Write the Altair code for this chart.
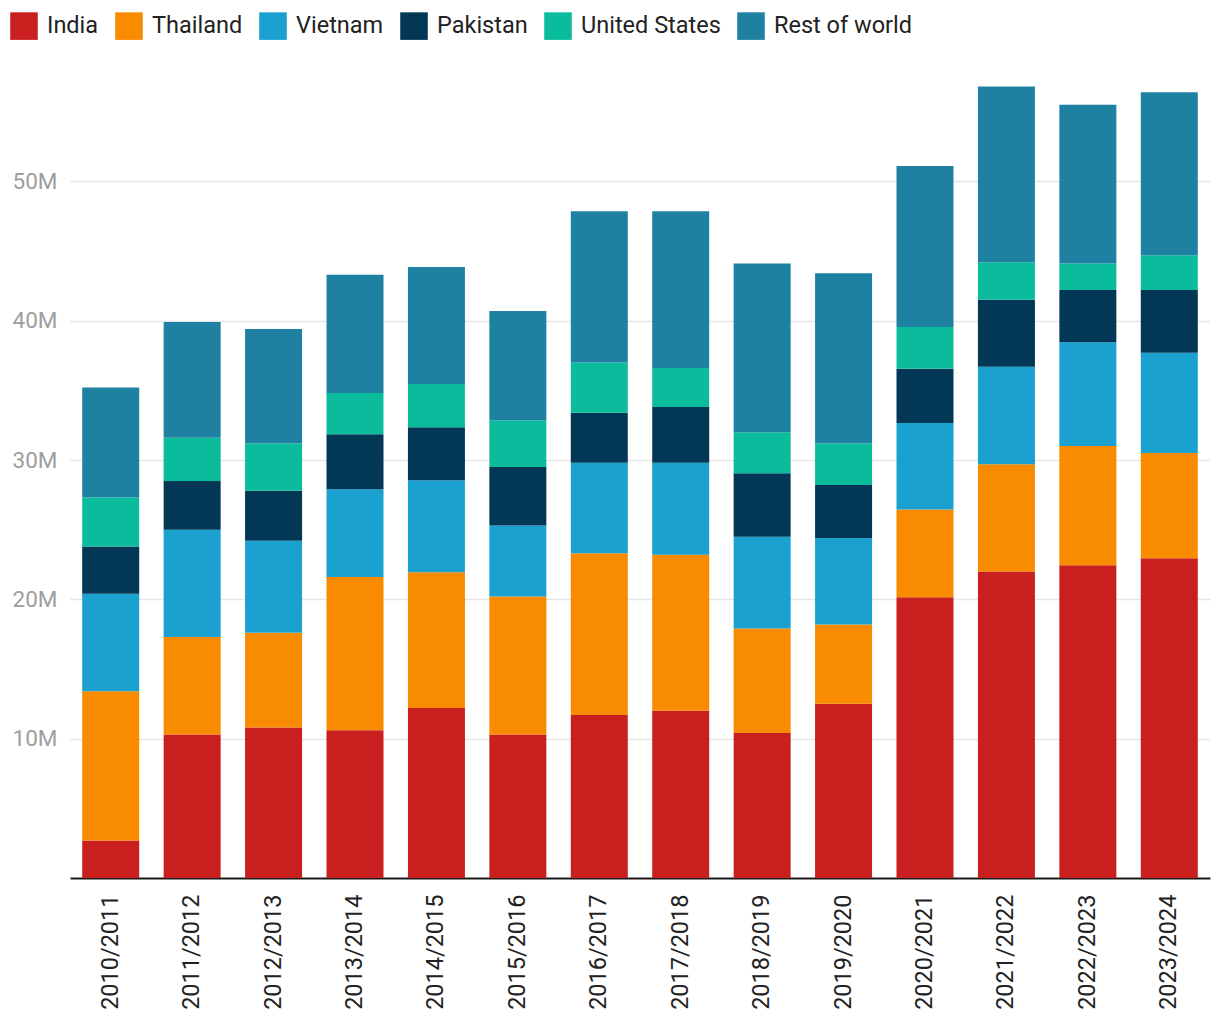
import altair as alt
import pandas as pd

seasons = ["2010/2011", "2011/2012", "2012/2013", "2013/2014", "2014/2015",
           "2015/2016", "2016/2017", "2017/2018", "2018/2019", "2019/2020",
           "2020/2021", "2021/2022", "2022/2023", "2023/2024"]
countries = ["India", "Thailand", "Vietnam", "Pakistan", "United States", "Rest of world"]
colors = ["#c91f1f", "#f98b00", "#1aa1cf", "#023756", "#0bbc9c", "#1f81a2"]

india = [2.7, 10.3, 10.8, 10.6, 12.2, 10.3, 11.7, 12.0, 10.4, 12.5, 20.15, 22.0, 22.45, 22.95]
thailand = [10.7, 7.0, 6.8, 11.0, 9.75, 9.9, 11.6, 11.2, 7.5, 5.7, 6.3, 7.7, 8.55, 7.55]
vietnam = [7.0, 7.7, 6.6, 6.3, 6.6, 5.1, 6.5, 6.6, 6.6, 6.2, 6.2, 7.0, 7.45, 7.2]
pakistan = [3.4, 3.5, 3.6, 3.95, 3.8, 4.2, 3.6, 4.0, 4.55, 3.8, 3.9, 4.8, 3.75, 4.5]
united_states = [3.5, 3.1, 3.4, 2.95, 3.1, 3.35, 3.6, 2.8, 2.95, 3.0, 3.0, 2.7, 1.9, 2.5]
rest_of_world = [7.9, 8.3, 8.2, 8.5, 8.4, 7.85, 10.85, 11.25, 12.1, 12.2, 11.55, 12.6, 11.4, 11.7]

series = [india, thailand, vietnam, pakistan, united_states, rest_of_world]
rows = []
for ci, (c, vals) in enumerate(zip(countries, series)):
    for s, v in zip(seasons, vals):
        rows.append({"season": s, "country": c, "value": v, "idx": ci})
df = pd.DataFrame(rows)

FONT = "Roboto"

chart = alt.Chart(df).mark_bar().encode(
    x=alt.X("season:N", sort=seasons,
            scale=alt.Scale(paddingInner=0.3, paddingOuter=0.15),
            axis=alt.Axis(title=None, labelAngle=-90, labelFontSize=23.5, labelColor="#222222",
                          labelFont=FONT, ticks=False, domainColor="#1a1a1a", domainWidth=2,
                          labelPadding=16, grid=False)),
    y=alt.Y("value:Q", stack="zero",
            scale=alt.Scale(domain=[0, 60], nice=False),
            axis=alt.Axis(title=None, values=[10, 20, 30, 40, 50], labelExpr="datum.value + 'M'",
                          labelFontSize=22.5, labelColor="#9e9e9e", labelFont=FONT,
                          ticks=False, domain=False, gridColor="#e6e6e6", gridWidth=1.5,
                          labelPadding=13)),
    color=alt.Color("country:N", sort=countries,
                    scale=alt.Scale(domain=countries, range=colors),
                    legend=alt.Legend(title=None, orient="none", direction="horizontal",
                                      legendX=-60, legendY=-30, symbolType="square",
                                      symbolSize=760, symbolStrokeWidth=0, labelFontSize=23.5,
                                      labelFont=FONT, labelColor="#222222", labelOffset=9,
                                      columnPadding=16, padding=0)),
    order=alt.Order("idx:Q", sort="ascending"),
).properties(
    width=1140, height=836,
    autosize=alt.AutoSizeParams(type="none"),
    padding={"left": 70, "top": 42, "right": 10, "bottom": 142},
).configure(font=FONT).configure_view(stroke=None, strokeWidth=0)

chart.save("out.html", embed_options={"renderer": "svg", "actions": False})
